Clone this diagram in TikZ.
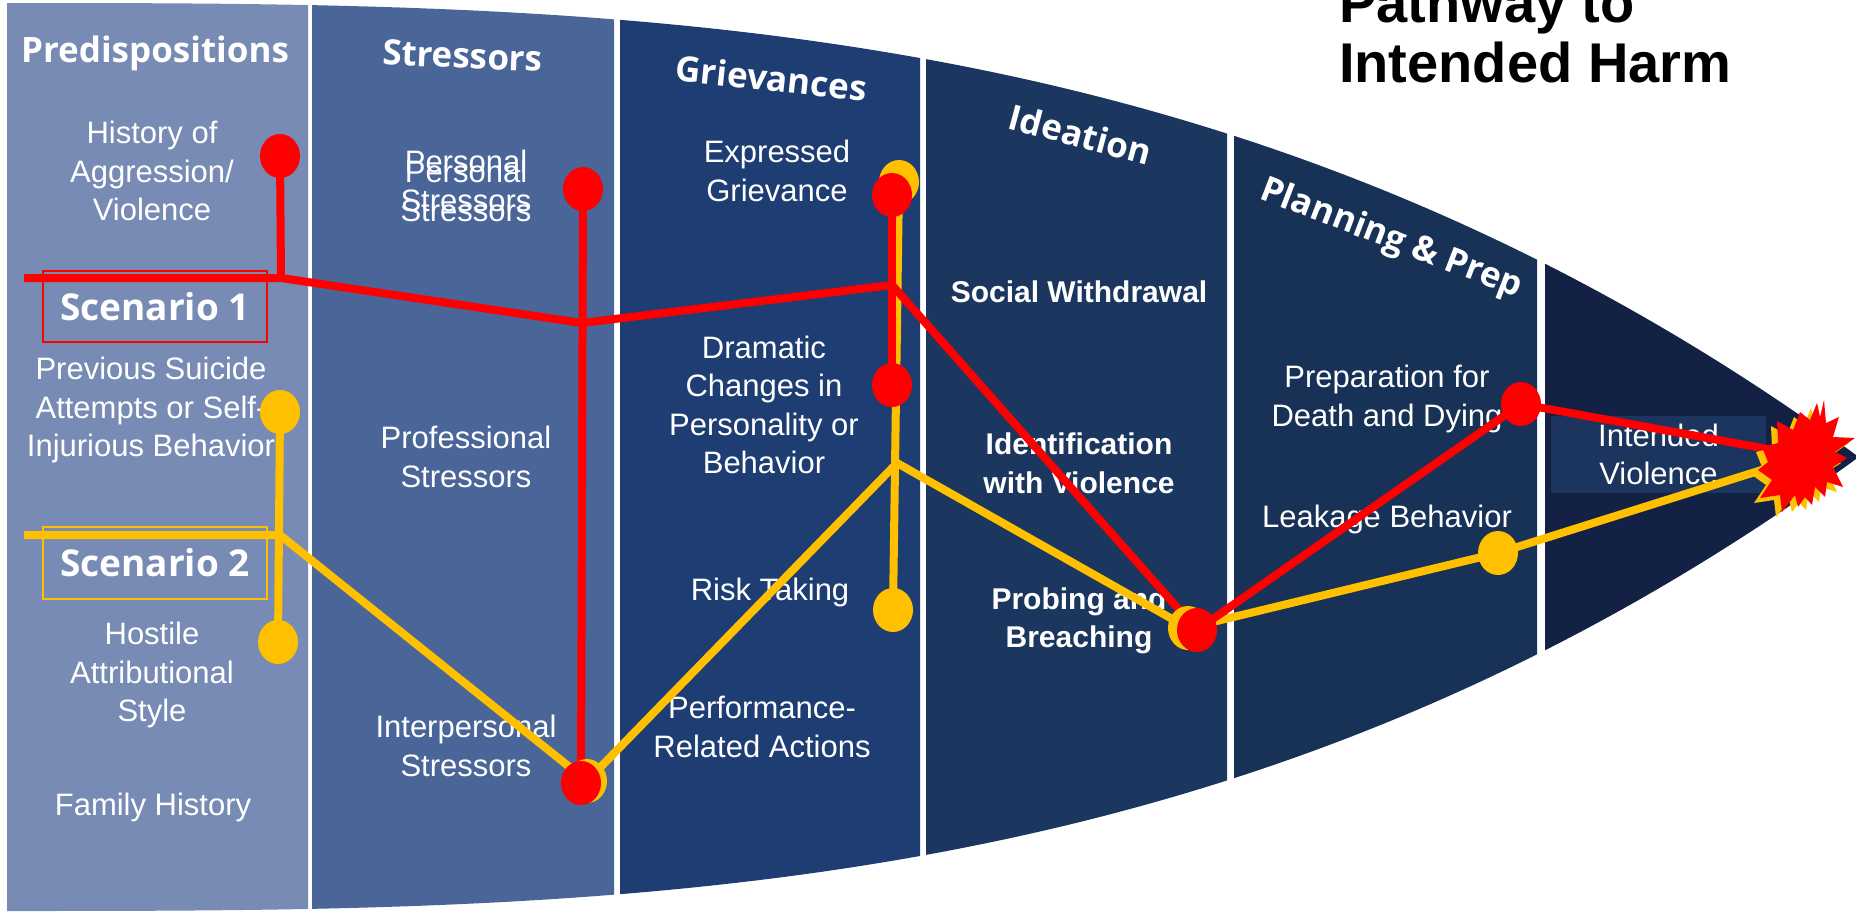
\documentclass[tikz,border=0pt]{standalone}
\usepackage{fontspec}
\setmainfont{Liberation Sans}
\newfontfamily\headfont{Open Sans}
\usetikzlibrary{shapes.geometric}
\definecolor{cA}{HTML}{778BB4}
\definecolor{cB}{HTML}{4A6598}
\definecolor{cC}{HTML}{1E3D72}
\definecolor{cD}{HTML}{1B365F}
\definecolor{cE}{HTML}{183157}
\definecolor{cF}{HTML}{132244}
\definecolor{ivbox}{HTML}{1B355F}
\definecolor{rd}{HTML}{FF0000}
\definecolor{gd}{HTML}{FFC000}
\pgfdeclarelayer{dots}
\pgfsetlayers{main,dots}
\newcommand{\pathcol}[3]{\fill[#3] plot[domain=#1:#2,samples=60] (\x,{3+452*(\x/1856)^3}) -- plot[domain=#2:#1,samples=60] (\x,{911-452*(\x/1856)^3}) -- cycle;}
\begin{document}
\begin{tikzpicture}[x=1pt,y=-1pt,
  body/.style={text=white,align=center,inner sep=0pt,font=\fontsize{31}{38.5}\selectfont},
  bodyb/.style={text=white,align=center,inner sep=0pt,font=\fontsize{30}{38.5}\selectfont\bfseries},
  hdr/.style={text=white,anchor=base,inner sep=0pt,font=\headfont\fontsize{35}{40}\selectfont\bfseries},
  scen/.style={text=white,line width=2pt,minimum width=224pt,inner sep=0pt,font=\headfont\fontsize{37}{40}\selectfont\bfseries},
  ydot/.style={ellipse,fill=gd,minimum width=40pt,minimum height=44pt,inner sep=0pt},
  rdot/.style={ellipse,fill=rd,minimum width=40pt,minimum height=44pt,inner sep=0pt},
  rline/.style={draw=rd,line width=8pt},
  yline/.style={draw=gd,line width=8pt}]
\useasboundingbox (0,0) rectangle (1856,911);
\fill[white] (0,0) rectangle (1856,911);
% columns
\pathcol{7}{308}{cA}
\pathcol{312}{614}{cB}
\pathcol{620}{920}{cC}
\pathcol{926}{1227}{cD}
\pathcol{1234}{1537}{cE}
\pathcol{1545}{1856}{cF}
% title
\node[anchor=west,align=left,inner sep=0pt,font=\fontsize{56}{60}\selectfont\bfseries] (title) at (1339,32.5) {Pathway to\\Intended Harm};
% headers
\node[hdr] (h1) at (155,62) {Predispositions};
\node[hdr,rotate=-2.5] (h2) at (462,68) {Stressors};
\node[hdr,rotate=-6] (h3) at (770,91) {Grievances};
\node[hdr,rotate=-15] (h4) at (1077,147) {Ideation};
\node[hdr,rotate=-21] (h5) at (1388,248) {Planning \& Prep};
% body texts
\node[body] (hist) at (152,171) {History of\\Aggression/\\Violence};
\node[body] (prev) at (151,410) {Previous Suicide\\Attempts or Self-\\Injurious Behavior};
\node[body] (host) at (152,675) {Hostile\\Attributional\\Style};
\node[body] (fam) at (153,807) {Family History};
\node[body] (persA) at (466,181) {Personal\\Stressors};
\node[body] (persB) at (466,191) {Personal\\Stressors};
\node[body] (prof) at (466,457) {Professional\\Stressors};
\node[body] (inter) at (466,746) {Interpersonal\\Stressors};
\node[body] (expr) at (777,171) {Expressed\\Grievance};
\node[body] (dram) at (764,405) {Dramatic\\Changes in\\Personality or\\Behavior};
\node[body] (risk) at (770,592) {Risk Taking};
\node[body] (perf) at (762,727) {Performance-\\Related Actions};
\node[bodyb] (soc) at (1079,291.5) {Social Withdrawal};
\node[bodyb] (ident) at (1079,463.5) {Identification\\with Violence};
\node[bodyb] (prob) at (1079,621) {Probing and\\Breaching};
\node[body] (prep) at (1387,399) {Preparation for\\Death and Dying};
\node[body] (leak) at (1387,519) {Leakage Behavior};
\node[body,fill=ivbox,minimum width=215pt,minimum height=77pt] (iv) at (1658.5,454.5) {Intended\\Violence};
% scenario boxes
\node[scen,draw=rd,minimum height=71pt] (sc1) at (155,306.5) {Scenario 1};
\node[scen,draw=gd,minimum height=72pt] (sc2) at (155,563) {Scenario 2};
% dots
\begin{pgfonlayer}{dots}
\node[ydot] (yS) at (280,412) {};
\node[ydot] (yH) at (278,642) {};
\node[ydot] (yE) at (899,182) {};
\node[ydot] (yR) at (893,610) {};
\node[ydot] (yI) at (587,781) {};
\node[ydot] (yPB) at (1188,628) {};
\node[ydot] (yL) at (1498,553) {};
\node[rdot] (rH) at (280,156) {};
\node[rdot] (rP) at (583,189) {};
\node[rdot] (rE) at (892,195) {};
\node[rdot] (rD) at (892,385) {};
\node[rdot] (rI) at (581,783) {};
\node[rdot] (rPB) at (1197,630) {};
\node[rdot] (rPD) at (1521,404) {};
\end{pgfonlayer}
% junction coordinates
\coordinate (rs) at (24,278);
\coordinate (rj1) at (281,278);
\coordinate (rj2) at (582,323);
\coordinate (rj3) at (892,285);
\coordinate (ys) at (24,535);
\coordinate (yj1) at (280,535);
\coordinate (yj3) at (897,463);
\coordinate (boom) at (1806,456);
% yellow path
\draw[yline] (yS.center) -- (yH.center);
\draw[yline] (yE.center) -- (yR.center);
\draw[yline] (ys) -- (yj1) -- (yI.center) -- (yj3) -- (yPB.center) -- (yL.center) -- (boom);
% red path
\draw[rline] (rj1) -- (rH.center);
\draw[rline] (rP.center) -- (rI.center);
\draw[rline] (rE.center) -- (rD.center);
\draw[rline] (rs) -- (rj1) -- (rj2) -- (rj3) -- (rPB.center) -- (rPD.center) -- (boom);
% explosion
\begin{scope}[shift={(-6,5)}]
\fill[gd] (1824,400) -- (1826,423) -- (1839,417) -- (1833,437) -- (1855,438) -- (1835,452) -- (1847,458) -- (1833,467) -- (1843,487) -- (1827,482) -- (1825,497) -- (1815,487) -- (1812,505) -- (1805,497) -- (1798,507) -- (1795,495) -- (1782,512) -- (1780,495) -- (1760,498) -- (1772,480) -- (1758,470) -- (1768,462) -- (1762,447) -- (1778,443) -- (1777,421) -- (1793,430) -- (1800,412) -- (1810,420) -- (1817,403) -- (1820,417) -- cycle;
\end{scope}
\fill[rd] (1824,400) -- (1826,423) -- (1839,417) -- (1833,437) -- (1855,438) -- (1835,452) -- (1847,458) -- (1833,467) -- (1843,487) -- (1827,482) -- (1825,497) -- (1815,487) -- (1812,505) -- (1805,497) -- (1798,507) -- (1795,495) -- (1782,512) -- (1780,495) -- (1760,498) -- (1772,480) -- (1758,470) -- (1768,462) -- (1762,447) -- (1778,443) -- (1777,421) -- (1793,430) -- (1800,412) -- (1810,420) -- (1817,403) -- (1820,417) -- cycle;
\end{tikzpicture}
\end{document}
